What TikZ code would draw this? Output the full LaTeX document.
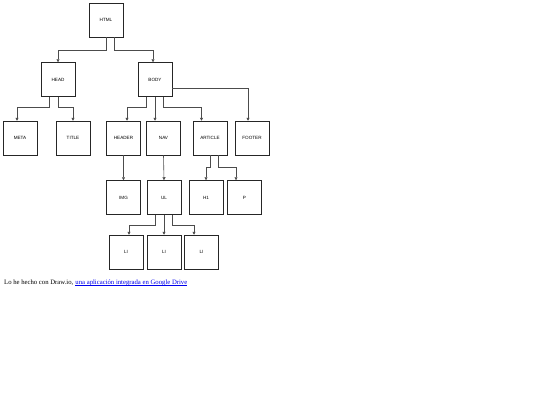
\documentclass[tikz,border=0pt]{standalone}
\usepackage{fontspec}
\setmainfont{Liberation Serif}
\setsansfont{Liberation Sans}
\usetikzlibrary{arrows.meta}

\begin{document}
\begin{tikzpicture}[  > = {Triangle[length=3pt,width=3pt]},  x = 1pt,  y = -1pt,
  tag/.style = {draw=black!85, line width=0.5pt, minimum size=34pt, inner sep=0pt,
    font = \sffamily\fontsize{4.6}{5}\selectfont},
  link/.style = {->, line width=0.6pt, draw=black!70},
  caption/.style = {inner sep=0pt, font=\fontsize{6.7}{8}\selectfont}]
  \useasboundingbox (0,0) rectangle (540,405);
  % Define nodes
  \node[tag] (html) at (106,20) {HTML};
  \node[tag] (head) at (58,79.5) {HEAD};
  \node[tag] (body) at (155,79.5) {BODY};
  \node[tag] (meta) at (20,138) {META};
  \node[tag] (title) at (73,138) {TITLE};
  \node[tag] (header) at (123.5,138) {HEADER};
  \node[tag] (nav) at (163.5,138) {NAV};
  \node[tag] (article) at (210,138) {ARTICLE};
  \node[tag] (footer) at (252,138) {FOOTER};
  \node[tag] (img) at (123.5,197.5) {IMG};
  \node[tag] (ul) at (164,197.5) {UL};
  \node[tag] (h1) at (206,197.5) {H1};
  \node[tag] (p) at (244.5,197.5) {P};
  \node[tag] (li1) at (126,252) {LI};
  \node[tag] (li2) at (164,252) {LI};
  \node[tag] (li3) at (201.5,252) {LI};
  \node[caption, anchor=base west] (note) at (4,284) {Lo he hecho con Draw.io,};
  \node[caption, anchor=base west, text={rgb,1:red,0;green,0;blue,0.93}] (drive)
    at ([xshift=1.7pt]note.base east) {una aplicación integrada en Google Drive};
  \draw[line width=0.45pt, draw={rgb,1:red,0;green,0;blue,0.93}]
    ([yshift=-1pt]drive.base west) -- ([yshift=-1pt]drive.base east);

  % Draw arrows
  \draw[link] (html.south) -- ++(0,13) -| (head.north);
  \draw[link] ([xshift=8.5pt]html.south) -- ++(0,13) -| ([xshift=-2pt]body.north);
  \draw[link] ([xshift=-8.5pt]head.south) -- ++(0,11) -| ([xshift=-3pt]meta.north);
  \draw[link] (head.south) -- ++(0,11) -| (title.north);
  \draw[link] ([xshift=-8.5pt]body.south) -- ++(0,11) -| ([xshift=3.5pt]header.north);
  \draw[link] (body.south) -- ([xshift=-8.5pt]nav.north);
  \draw[link] ([xshift=8.5pt]body.south) -- ++(0,11) -| ([xshift=-8.5pt]article.north);
  \draw[link] ([yshift=-8.5pt]body.east) -| ([xshift=-4pt]footer.north);
  \draw[link] (header.south) -- (img.north);
  \draw[link] (nav.south) -- (ul.north);
  \draw[link] (article.south) -- ++(0,12) -| (h1.north);
  \draw[link] ([xshift=8.5pt]article.south) -- ++(0,12) -| ([xshift=-8.5pt]p.north);
  \draw[link] ([xshift=-8.5pt]ul.south) -- ++(0,11) -| ([xshift=3pt]li1.north);
  \draw[link] (ul.south) -- (li2.north);
  \draw[link] ([xshift=8.5pt]ul.south) -- ++(0,11) -| ([xshift=-7.5pt]li3.north);
\end{tikzpicture}
\end{document}
